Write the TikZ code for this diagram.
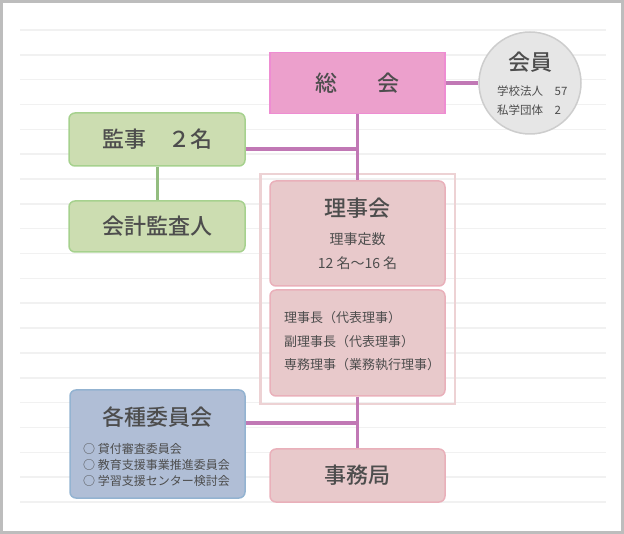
\documentclass[tikz,border=0pt]{standalone}
\usepackage{fontspec}
\setmainfont{Noto Sans CJK JP}[BoldFont={Noto Sans CJK JP Medium}]
\usetikzlibrary{positioning}

\definecolor{txt}{HTML}{4D4D4D}
\definecolor{rule}{HTML}{F1F1F1}
\definecolor{edge}{HTML}{BDBDBD}
\definecolor{pinkfill}{HTML}{ECA0CC}
\definecolor{pinkdraw}{HTML}{EE8DD2}
\definecolor{rosefill}{HTML}{E8C9CB}
\definecolor{rosedraw}{HTML}{E9B0BA}
\definecolor{groupdraw}{HTML}{EDD2D4}
\definecolor{greenfill}{HTML}{CCDDB1}
\definecolor{greendraw}{HTML}{A6D18E}
\definecolor{bluefill}{HTML}{B0BED6}
\definecolor{bluedraw}{HTML}{93B3D1}
\definecolor{grayfill}{HTML}{E6E6E6}
\definecolor{graydraw}{HTML}{CDCDCD}
\definecolor{purple}{HTML}{C178B5}
\definecolor{leaf}{HTML}{93BD80}

\begin{document}
\begin{tikzpicture}[x=1pt,y=-1pt]
\tikzset{
    org/.style={
              rectangle,
                   rounded corners=6pt,
                   line width=1.5pt,
                   text=txt,
                   inner sep=0pt,
                   font=\fontsize{22pt}{24pt}\selectfont\bfseries
    },
    kanjibox/.style={org, fill=greenfill, draw=greendraw, minimum width=176pt},
    rijibox/.style={org, fill=rosefill, draw=rosedraw, minimum width=175pt},
    iinbox/.style={org, fill=bluefill, draw=bluedraw, minimum width=175pt},
    title/.style={text=txt, inner sep=0pt, font=\fontsize{22pt}{24pt}\selectfont\bfseries},
    item/.style={text=txt, inner sep=0pt, anchor=west},
    pline/.style={draw=purple, line width=3.5pt},
    gline/.style={draw=leaf, line width=3pt}
}
    \useasboundingbox (0,0) rectangle (624,534);
    \draw[draw=edge, line width=3pt] (1.5,1.5) rectangle (622.5,532.5);
    \foreach \k in {0,...,19}
        \draw[rule, line width=1.5pt] (20,30+24.84*\k) -- (606,30+24.84*\k);

    % group frame
    \draw[groupdraw, line width=2.5pt] (260.5,174) rectangle (455,404);

    \node (soukai)[org, rounded corners=0pt, fill=pinkfill, draw=pinkdraw,
        minimum width=175pt, minimum height=61pt] at (357.5,83) {総\hspace{41pt}会};
    \node (kaiin)[circle, fill=grayfill, draw=graydraw, line width=1.5pt,
        minimum size=102pt, inner sep=0pt] at (530,83) {};
    \node (kanji)[kanjibox, minimum height=53pt] at (157,139.5) {監事　２名};
    \node (kaikei)[kanjibox, minimum height=51pt] at (157,226.5) {会計監査人};
    \node (rijikai)[rijibox, minimum height=105pt] at (357.5,233.5) {};
    \node (yakuin)[rijibox, minimum height=106pt] at (357.5,343) {};
    \node (iinkai)[iinbox, minimum height=108pt] at (157.5,444) {};
    \node (jimukyoku)[rijibox, minimum height=53pt] at (357.5,475.5) {事務局};

    \node (kaiin title)[title] at (530,62) {会員};
    \node (gakko)[item, font=\fontsize{11.5pt}{13pt}\selectfont] at (497,91) {学校法人　57};
    \node (shigaku)[item, font=\fontsize{11.5pt}{13pt}\selectfont] at (497,110) {私学団体　2};

    \node (riji title)[title] at (357.5,208) {理事会};
    \node (teisu)[text=txt, inner sep=0pt, font=\fontsize{14pt}{16pt}\selectfont] at (357.5,239) {理事定数};
    \node (ninzu)[text=txt, inner sep=0pt, font=\fontsize{14pt}{16pt}\selectfont] at (357.5,263) {12 名〜16 名};

    \node (rijicho)[item, font=\fontsize{13pt}{15pt}\selectfont] at (284,318) {理事長（代表理事）};
    \node (fuku)[item, font=\fontsize{13pt}{15pt}\selectfont] at (284,342) {副理事長（代表理事）};
    \node (senmu)[item, font=\fontsize{13pt}{15pt}\selectfont] at (284,365) {専務理事（業務執行理事）};

    \node (iin title)[title] at (157.5,417) {各種委員会};
    \node (kashitsuke)[item, font=\fontsize{12pt}{14pt}\selectfont] at (83,449) {○ 貸付審査委員会};
    \node (kyoiku)[item, font=\fontsize{12pt}{14pt}\selectfont] at (83,465) {○ 教育支援事業推進委員会};
    \node (gakushu)[item, font=\fontsize{12pt}{14pt}\selectfont] at (83,481) {○ 学習支援センター検討会};

    \coordinate (j1) at (357.5,149);
    \coordinate (j2) at (357.5,423);

    \draw[pline] (soukai) -- (kaiin);
    \draw[pline] (soukai) -- (rijikai);
    \draw[pline] (kanji.east |- j1) -- (j1);
    \draw[gline] (kanji) -- (kaikei);
    \draw[pline] (yakuin) -- (jimukyoku);
    \draw[pline] (iinkai.east |- j2) -- (j2);

\end{tikzpicture}
\end{document}
